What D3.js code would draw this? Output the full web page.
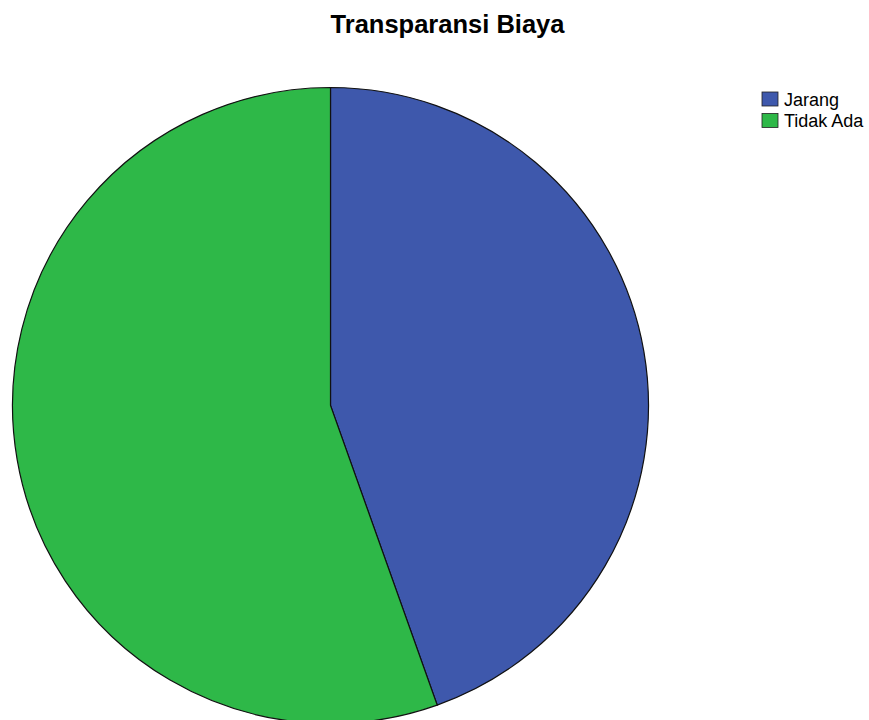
<!DOCTYPE html>
<html>
<head>
<meta charset="utf-8">
<script src="https://cdn.jsdelivr.net/npm/d3@7"></script>
<style>
    body { margin: 0; background: #fff; }
    svg { display: block; }
</style>
</head>
<body>
<div id="chart"></div>
<script>
const categories = ["Jarang", "Tidak Ada"];
const counts = [45, 56];
const colors = ["#3e58ac", "#2eb848"];

const width = 869;
const height = 720;
const cx = 330.5;
const cy = 405.5;
const radius = 318;

const svg = d3.select('#chart').append('svg')
    .attr('width', width)
    .attr('height', height);

svg.append('text')
    .attr('x', 447.5)
    .attr('y', 33)
    .attr('text-anchor', 'middle')
    .style('font', 'bold 25.5px "Liberation Sans", Arial, sans-serif')
    .text('Transparansi Biaya');

const data = categories.map((c, i) => ({ name: c, value: counts[i] }));

const pie = d3.pie()
    .value(d => d.value)
    .sort(null);

const arc = d3.arc()
    .innerRadius(0)
    .outerRadius(radius);

const color = d3.scaleOrdinal()
    .domain(categories)
    .range(colors);

svg.append('g')
    .attr('transform', `translate(${cx},${cy})`)
    .selectAll('path')
    .data(pie(data))
    .enter().append('path')
    .attr('d', arc)
    .attr('fill', d => color(d.data.name))
    .attr('stroke', '#111')
    .attr('stroke-width', 1.2);

// legend
const legend = svg.append('g')
    .attr('transform', 'translate(762,92)');

const item = legend.selectAll('g')
    .data(categories)
    .enter().append('g')
    .attr('transform', (d, i) => `translate(0,${i * 21.5})`);

item.append('rect')
    .attr('width', 16)
    .attr('height', 14)
    .attr('fill', d => color(d))
    .attr('stroke', '#222')
    .attr('stroke-width', 0.8);

item.append('text')
    .attr('x', 22)
    .attr('y', 13.5)
    .style('font', '18px "Liberation Sans", Arial, sans-serif')
    .text(d => d);
</script>
</body>
</html>
